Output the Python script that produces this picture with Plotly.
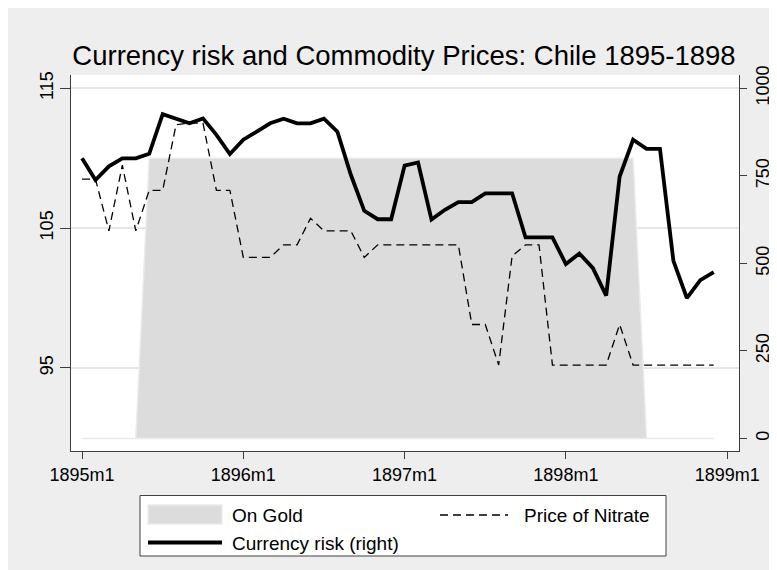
import plotly.graph_objects as go

# ---------------- data ----------------
months = [f"{y}m{m}" for y in range(1895, 1899) for m in range(1, 13)]
x_idx = list(range(len(months)))

currency_risk = [800, 738, 777, 800, 800, 813, 926, 913, 900, 914, 867, 812,
                 853, 876, 900, 913, 900, 900, 913, 876, 753, 650, 626, 626,
                 779, 788, 625, 653, 675, 675, 700, 700, 700, 574, 574, 574,
                 498, 528, 487, 408, 748, 853, 827, 827, 507, 401, 452, 475]

nitrate = [108.5, 108.5, 104.8, 109.5, 104.8, 107.7, 107.7, 112.4, 112.5, 112.5, 107.7, 107.7,
           102.9, 102.9, 102.9, 103.8, 103.8, 105.7, 104.8, 104.8, 104.8, 102.9, 103.8, 103.8,
           103.8, 103.8, 103.8, 103.8, 103.8, 98.1, 98.1, 95.2, 103.0, 103.8, 103.8, 95.2,
           95.2, 95.2, 95.2, 95.2, 98.1, 95.2, 95.2, 95.2, 95.2, 95.2, 95.2, 95.2]

on_gold = [0] * 5 + [800] * 37 + [0] * 6

x_tickvals = [0, 12, 24, 36, 48]
x_ticktext = ["1895m1", "1896m1", "1897m1", "1898m1", "1899m1"]
left_ticks = [95, 105, 115]
right_ticks = [0, 250, 500, 750, 1000]

# ---------------- layout geometry ----------------
W, H = 777, 570
L, R, T, B = 63, 46, 67, 127
PW, PH = W - L - R, H - T - B
FONT = "Liberation Sans, Arial, sans-serif"
AX = "#3c3c3c"
RIGHT_RANGE = [-35.9, 1037.9]
LEFT_RANGE = [89.05, 115.95]


def px(xp):
    return (xp - L) / PW


def py(yp):
    return (H - B - yp) / PH


fig = go.Figure()

# On Gold area (right axis, bottom layer), polygon closed along zero baseline
gx = x_idx + x_idx[::-1]
gy = on_gold + [0] * len(on_gold)
fig.add_trace(go.Scatter(x=gx, y=gy, yaxis="y", fill="toself", mode="lines",
                         fillcolor="#dcdcdc", line=dict(color="#ebebeb", width=1.5),
                         hoverinfo="skip", showlegend=False))

# Price of Nitrate (left axis)
fig.add_trace(go.Scatter(x=x_idx, y=nitrate, yaxis="y2", mode="lines",
                         line=dict(color="black", width=1.3, dash="8px,5px"),
                         showlegend=False))

# Currency risk (right axis scale, top layer)
fig.add_trace(go.Scatter(x=x_idx, y=currency_risk, yaxis="y3", mode="lines",
                         line=dict(color="black", width=3.8),
                         showlegend=False))

tick_common = dict(ticks="outside", tickcolor=AX, tickwidth=1,
                   showline=True, linecolor=AX, linewidth=1,
                   zeroline=False, tickfont=dict(size=18))

fig.update_layout(
    width=W, height=H,
    margin=dict(l=L, r=R, t=T, b=B),
    paper_bgcolor="#eeeeee",
    plot_bgcolor="white",
    font=dict(family=FONT, color="black", size=18),
    title=dict(text="Currency risk and Commodity Prices: Chile 1895-1898",
               x=396 / W, xanchor="center", y=1 - 47 / H, yanchor="middle",
               yref="container", font=dict(size=27.5, family=FONT, color="black")),
    xaxis=dict(range=[-0.82, 48.88], tickvals=x_tickvals, ticktext=x_ticktext,
               ticklen=7, showgrid=False, **tick_common),
    yaxis=dict(range=RIGHT_RANGE, tickvals=right_ticks, tickangle=-90,
               side="right", ticklen=7, showgrid=False, **tick_common),
    yaxis2=dict(range=LEFT_RANGE, tickvals=left_ticks, tickangle=-90,
                overlaying="y", side="left", ticklen=10,
                showgrid=True, gridcolor="#e6e6e6", gridwidth=1.5, **tick_common),
    yaxis3=dict(range=RIGHT_RANGE, overlaying="y", side="right", visible=False,
                showgrid=False, zeroline=False),
    showlegend=False,
)

# ---------------- legend (manual) ----------------
shapes = [
    dict(type="rect", xref="paper", yref="paper", x0=px(132), x1=px(658),
         y0=py(548), y1=py(487.5), line=dict(color="#404040", width=1),
         fillcolor="white", layer="above"),
    dict(type="rect", xref="paper", yref="paper", x0=px(140), x1=px(214),
         y0=py(516), y1=py(497), line=dict(color="#ebebeb", width=1.5),
         fillcolor="#dcdcdc", layer="above"),
    dict(type="line", xref="paper", yref="paper", x0=px(432), x1=px(500),
         y0=py(507), y1=py(507), line=dict(color="black", width=1.3, dash="8px,5px"),
         layer="above"),
    dict(type="line", xref="paper", yref="paper", x0=px(140), x1=px(214),
         y0=py(534.5), y1=py(534.5), line=dict(color="black", width=3.8),
         layer="above"),
]
annotations = [
    dict(text="On Gold", xref="paper", yref="paper", x=px(222), y=py(507),
         xanchor="left", yanchor="middle", showarrow=False, font=dict(size=19)),
    dict(text="Price of Nitrate", xref="paper", yref="paper", x=px(514), y=py(507),
         xanchor="left", yanchor="middle", showarrow=False, font=dict(size=19)),
    dict(text="Currency risk (right)", xref="paper", yref="paper", x=px(222), y=py(535),
         xanchor="left", yanchor="middle", showarrow=False, font=dict(size=19)),
]
fig.update_layout(shapes=shapes, annotations=annotations)

fig.write_html("out.html")
